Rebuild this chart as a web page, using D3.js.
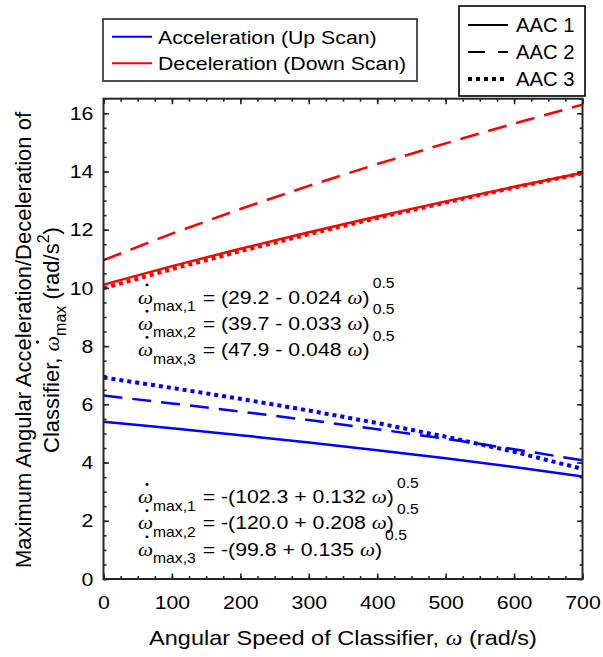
<!DOCTYPE html>
<html>
<head>
<meta charset="utf-8">
<script src="https://cdn.jsdelivr.net/npm/d3@7"></script>
<style>
  html, body { margin: 0; padding: 0; background: #fff; }
  svg { display: block; font-family: "Liberation Sans", Arial, Helvetica, sans-serif; }
</style>
</head>
<body>
<svg id="chart" width="603" height="657"></svg>
<script>
// Angular speed samples (rad/s)
const speeds = [0, 100, 200, 300, 400, 500, 600, 700];

// Up-scan limits (acceleration), rad/s^2
const accelAAC1 = [5.404, 5.177, 4.940, 4.690, 4.427, 4.147, 3.847, 3.521];
const accelAAC2 = [6.301, 6.033, 5.753, 5.459, 5.148, 4.817, 4.461, 4.074];
const accelAAC3 = [6.921, 6.565, 6.189, 5.788, 5.357, 4.889, 4.370, 3.782];

// Down-scan limits (deceleration magnitude), rad/s^2
const decelAAC1 = [10.114, 10.747, 11.345, 11.912, 12.454, 12.973, 13.472, 13.954];
const decelAAC2 = [10.954, 11.866, 12.712, 13.506, 14.255, 14.967, 15.646, 16.297];
const decelAAC3 = [9.990, 10.644, 11.261, 11.845, 12.402, 12.934, 13.446, 13.939];

// Fitted expressions printed on the plot
const upFits = ["(29.2 - 0.024 ", "(39.7 - 0.033 ", "(47.9 - 0.048 "];
const downFits = ["-(102.3 + 0.132 ", "-(120.0 + 0.208 ", "-(99.8 + 0.135 "];

const aacNames = ["AAC 1", "AAC 2", "AAC 3"];
const scanNames = ["Acceleration (Up Scan)", "Deceleration (Down Scan)"];
const scanColors = ["#0000ff", "#ff0000"];

const xTicks = [0, 100, 200, 300, 400, 500, 600, 700];
const yTicks = [0, 2, 4, 6, 8, 10, 12, 14, 16];
const xMinor = d3.range(0, 701, 25);
const yMinor = d3.range(0, 16.51, 0.5);

const SX = 1.12;            // horizontal glyph stretch
const axisColor = "#262626";
const OMEGA = "ω";
const SERIF = "'Liberation Serif', 'DejaVu Serif', serif";
const lineStyles = [
  { width: 2.5, dash: null },
  { width: 2.5, dash: "19,10" },
  { width: 4,   dash: "4,4" }
];

const svg = d3.select("#chart");
svg.append("rect").attr("width", 603).attr("height", 657).attr("fill", "#fff");

const pL = 103.5, pR = 582.5, pT = 98.7, pB = 579;
const x = d3.scaleLinear().domain([0, 700]).range([pL, pR]);
const y = d3.scaleLinear().domain([0, 16.5]).range([pB, pT]);

// ---- data lines ----
const line = d3.line().x((d, i) => x(speeds[i])).y(d => y(d));
const series = [
  { v: accelAAC1, c: 0, s: 0 }, { v: decelAAC1, c: 1, s: 0 },
  { v: accelAAC2, c: 0, s: 1 }, { v: decelAAC2, c: 1, s: 1 },
  { v: accelAAC3, c: 0, s: 2 }, { v: decelAAC3, c: 1, s: 2 }
];
const gLines = svg.append("g");
series.forEach(sr => {
  const st = lineStyles[sr.s];
  gLines.append("path")
    .attr("d", line(sr.v))
    .attr("fill", "none")
    .attr("stroke", scanColors[sr.c])
    .attr("stroke-width", st.width)
    .attr("stroke-dasharray", st.dash)
    .attr("stroke-linecap", "butt");
});

// ---- axes (inward ticks on all four sides) ----
function styleAxis(g, size) {
  g.attr("color", axisColor).attr("font-family", null).attr("font-size", size);
  g.select(".domain").remove();
  g.selectAll("line").attr("stroke-width", 1.6);
}
const axesSpec = [
  [() => d3.axisBottom(x), `translate(0,${pB})`, xTicks, xMinor, true, 17],
  [() => d3.axisTop(x), `translate(0,${pT})`, xTicks, xMinor, false, 9],
  [() => d3.axisLeft(y), `translate(${pL},0)`, yTicks, yMinor, true, 9],
  [() => d3.axisRight(y), `translate(${pR},0)`, yTicks, yMinor, false, 9]
];
axesSpec.forEach(([make, tr, major, minor, labelled, pad]) => {
  svg.append("g").attr("transform", tr)
    .call(make().tickValues(minor).tickSize(-3).tickFormat(""))
    .call(g => styleAxis(g, 19));
  const g = svg.append("g").attr("transform", tr)
    .call(make().tickValues(major).tickSize(-5.5)
      .tickFormat(labelled ? d3.format("d") : "")
      .tickPadding(pad))
    .call(g => styleAxis(g, 19));
  g.selectAll("text").attr("fill", "#000").attr("transform", `scale(${SX},1)`);
});

// plot frame
svg.append("rect")
  .attr("x", pL).attr("y", pT)
  .attr("width", pR - pL).attr("height", pB - pT)
  .attr("fill", "none").attr("stroke", axisColor).attr("stroke-width", 2);

// ---- run of text pieces (sub/superscripts) laid out left to right ----
// pieces: {t, size, dy, serif, gap, dot}
function textRun(parent, x0, y0, pieces, sx) {
  let cx = x0;
  const nodes = [];
  pieces.forEach(p => {
    const t = parent.append("text")
      .attr("font-size", p.size)
      .attr("fill", "#000")
      .style("white-space", "pre")
      .text(p.t);
    if (p.serif) t.attr("font-family", SERIF).attr("font-style", "italic");
    const w = t.node().getComputedTextLength() * sx;
    nodes.push({ t, p, x: cx, w, dy: p.dy || 0 });
    cx += w + (p.gap || 0);
  });
  nodes.forEach(n => {
    n.t.attr("transform", `translate(${n.x},${y0 + n.dy}) scale(${sx},1)`);
    // time-derivative dot above the symbol
    if (n.p.dot) {
      parent.append("circle")
        .attr("cx", n.x + n.w * 0.6)
        .attr("cy", y0 + n.dy - n.p.size * 0.98)
        .attr("r", n.p.size * 0.078)
        .attr("fill", "#000");
    }
  });
  return cx - x0;
}

// ---- fitted expressions ----
function fitBlock(fits, baselines) {
  fits.forEach((f, i) => {
    textRun(svg, 138, baselines[i], [
      { t: OMEGA, size: 19, serif: true, dot: true },
      { t: `max,${i + 1}`, size: 14, dy: 7.5, gap: 1 },
      { t: " = " + f, size: 19 },
      { t: OMEGA, size: 19, serif: true },
      { t: ")", size: 19, gap: 3 },
      { t: "0.5", size: 14, dy: -15.5 }
    ], SX);
  });
}
fitBlock(upFits, [303.5, 329.8, 356]);
fitBlock(downFits, [503, 529.3, 555.5]);

// ---- axis titles ----
{
  const g = svg.append("g");
  const w = textRun(g, 0, 0, [
    { t: "Angular Speed of Classifier, ", size: 21 },
    { t: OMEGA, size: 21, serif: true },
    { t: " (rad/s)", size: 21 }
  ], SX);
  g.attr("transform", `translate(${343 - w / 2},645)`);
}

svg.append("text")
  .attr("transform", "translate(31,340) rotate(-90)")
  .attr("text-anchor", "middle").attr("font-size", 22).attr("fill", "#000")
  .text("Maximum Angular Acceleration/Deceleration of");

{
  const outer = svg.append("g").attr("transform", "translate(59,340) rotate(-90)");
  const g = outer.append("g");
  const w = textRun(g, 0, 0, [
    { t: "Classifier, ", size: 22 },
    { t: OMEGA, size: 22, serif: true, dot: true },
    { t: "max", size: 16, dy: 7 },
    { t: " (rad/s", size: 22 },
    { t: "2", size: 16, dy: -10 },
    { t: ")", size: 22 }
  ], 1);
  g.attr("transform", `translate(${-w / 2},0)`);
}

// ---- legend: scan direction (colour) ----
const lg1 = svg.append("g");
lg1.append("rect").attr("x", 103).attr("y", 19).attr("width", 314).attr("height", 62)
  .attr("fill", "#fff").attr("stroke", axisColor).attr("stroke-width", 1.6);
scanNames.forEach((name, i) => {
  const cy = 36.7 + i * 26.6;
  lg1.append("line").attr("x1", 112).attr("x2", 152).attr("y1", cy).attr("y2", cy)
    .attr("stroke", scanColors[i]).attr("stroke-width", 2);
  lg1.append("text").attr("transform", `translate(158,${cy + 7}) scale(${SX},1)`)
    .attr("font-size", 19).attr("fill", "#000").text(name);
});

// ---- legend: line style (AAC) ----
const lg2 = svg.append("g");
lg2.append("rect").attr("x", 459).attr("y", 6).attr("width", 126).attr("height", 90)
  .attr("fill", "#fff").attr("stroke", "#000").attr("stroke-width", 1.6);
aacNames.forEach((name, i) => {
  const cy = 25 + i * 27;
  const st = lineStyles[i];
  lg2.append("line").attr("x1", 468).attr("x2", 508).attr("y1", cy).attr("y2", cy)
    .attr("stroke", "#000").attr("stroke-width", st.width === 4 ? 4 : 2)
    .attr("stroke-dasharray", i === 1 ? "17,13" : st.dash);
  lg2.append("text").attr("transform", `translate(516,${cy + 7}) scale(1.04,1)`)
    .attr("font-size", 19.5).attr("fill", "#000").text(name);
});
</script>
</body>
</html>
